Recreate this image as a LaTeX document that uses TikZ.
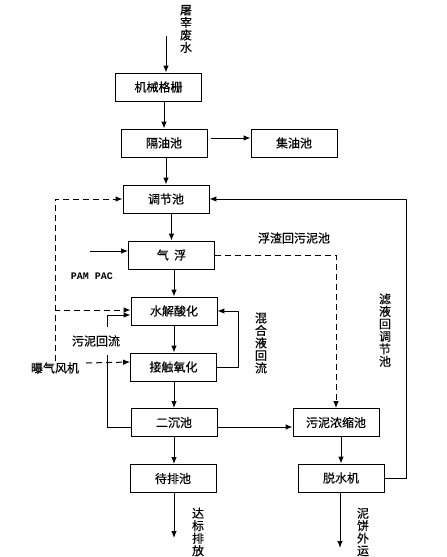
\documentclass[tikz,border=0pt]{standalone}
\usepackage{fontspec}
\newfontfamily\cjk[FakeBold=0.3]{Noto Sans CJK SC}
\setmonofont{Liberation Mono}
\usetikzlibrary{arrows.meta}

\begin{document}
\begin{tikzpicture}[x=1pt, y=-1pt]
		\tikzset{box/.style={shape = rectangle, draw, line width = 0.8pt, minimum width = 86pt, minimum height = 28pt, inner sep = 0pt, font = \cjk\fontsize{12}{14}\selectfont}}
		\tikzset{note/.style={inner sep = 1pt, font = \cjk\fontsize{12}{14}\selectfont}}
		\tikzset{vnote/.style={inner sep = 0pt, align = center, font = \cjk\fontsize{12}{12.5}\selectfont}}
		\tikzset{edge/.style={-{Latex[length = 7pt, width = 5.5pt]}, line width = 1pt}}
		\tikzset{dashed edge/.style={edge, dash pattern = on 6pt off 4pt}}
		\useasboundingbox (0,0) rectangle (447,557);
		%process boxes
		\node[box] (gs) at (158.5, 87) {机械格栅};
		\node[box] (gyc) at (164, 143) {隔油池};
		\node[box] (jyc) at (294, 143) {集油池};
		\node[box] (tjc) at (166, 199) {调节池};
		\node[box] (qf) at (171.5, 255) {气\ \ 浮};
		\node[box] (sj) at (174, 311) {水解酸化};
		\node[box] (jc) at (173.5, 367) {接触氧化};
		\node[box] (ec) at (174, 422.5) {二沉池};
		\node[box] (dp) at (173, 478.5) {待排池};
		\node[box] (wn) at (336, 422.5) {污泥浓缩池};
		\node[box] (ts) at (341, 478) {脱水机};
		%texts
		\node[vnote] (raw) at (186, 29) {屠\\宰\\废\\水};
		\node[note] (fan) at (55, 368) {曝气风机};
		\node[note, font = \ttfamily\bfseries\fontsize{10}{12}\selectfont] (pam) at (92, 276) {PAM PAC};
		\node[note] (scum) at (294, 238) {浮渣回污泥池};
		\node[vnote] (mix) at (261, 343) {混\\合\\液\\回\\流};
		\node[vnote] (filt) at (385, 330) {滤\\液\\回\\调\\节\\池};
		\node[vnote] (std) at (198, 532) {达\\标\\排\\放};
		\node[vnote] (cake) at (363, 532) {泥\\饼\\外\\运};
		%free ends
		\coordinate (in) at (166, 36);
		\coordinate (dose) at (90, 251);
		\coordinate (out1) at (174, 538);
		\coordinate (out2) at (340, 548);
		%main line
		\draw[edge] (in) -- (in |- gs.north);
		\draw[edge] (gs.south -| gyc) -- (gyc.north);
		\draw[edge] ([xshift=4pt, yshift=5pt]gyc.east) -- ([yshift=5pt]jyc.west);
		\draw[edge] (gyc.south -| tjc) -- (tjc.north);
		\draw[edge] (tjc.south -| qf) -- (qf.north);
		\draw[edge] (qf.south -| sj) -- (sj.north);
		\draw[edge] (sj.south) -- (sj.south |- jc.north);
		\draw[edge] (jc.south -| ec) -- (ec.north);
		\draw[edge] (ec.south) -- (ec.south |- dp.north);
		\draw[edge] (dp.south -| out1) -- (out1);
		\draw[edge] (dose) -- ([yshift=4pt]qf.west);
		%sludge line
		\draw[edge] ([yshift=-4.5pt]ec.east) -- ([yshift=-4.5pt]wn.west);
		\draw[edge] (wn.south -| ts) -- (ts.north);
		\draw[edge] (ts.south -| out2) -- (out2);
		\draw[edge] (ts.east) -- ++(22, 0) |- (tjc.east);
		\draw[dashed edge] (qf.east) -| (wn.north);
		%returns
		\draw[edge] (jc.east) -- ++(22, 0) |- (sj.east);
		\draw[edge] ([yshift=-4.5pt]ec.west) -- ++(-23, 0) |- ([yshift=-4pt]sj.west);
		\node[note, fill = white, inner ysep = 8pt] (back) at (96, 341) {污泥回流};
		%air
		\draw[dashed edge] (fan) |- (tjc.west);
		\draw[dashed edge] (fan) |- ([yshift=1pt]sj.west);
		\draw[dashed edge] ([shift={(6pt, 5pt)}]fan.east) -- ([yshift=5pt]jc.west);
\end{tikzpicture}
\end{document}
